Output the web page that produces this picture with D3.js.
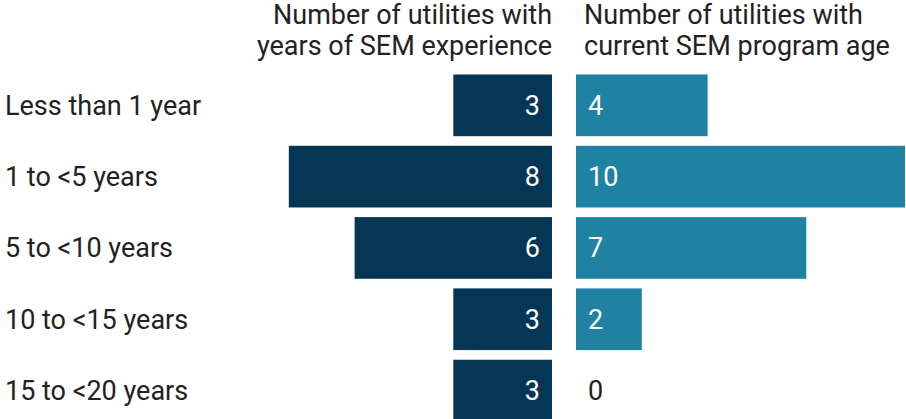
<!DOCTYPE html>
<html>
<head>
<meta charset="utf-8">
<script src="https://cdn.jsdelivr.net/npm/d3@7/dist/d3.min.js"></script>
<style>
  body { margin: 0; background: #fff; }
  svg text { font-family: Roboto, "Noto Sans", sans-serif; }
</style>
</head>
<body>
<svg width="906" height="419"></svg>
<script>
// chart data
var categories = ["Less than 1 year", "1 to <5 years", "5 to <10 years", "10 to <15 years", "15 to <20 years"];
var experience = [3, 8, 6, 3, 3];
var programAge = [4, 10, 7, 2, 0];
var leftTitle = ["Number of utilities with", "years of SEM experience"];
var rightTitle = ["Number of utilities with", "current SEM program age"];

var svg = d3.select("svg"),
    centerL = 552,   // right edge of left bars
    centerR = 576,   // left edge of right bars
    unit = 32.9,
    fontSize = "27px";

var yScale = d3.scaleBand()
    .domain(categories)
    .range([74.5, 421.4])
    .paddingInner(0.135)
    .paddingOuter(0);

var xLeft = d3.scaleLinear().domain([0, 10]).range([centerL, centerL - unit * 10]);
var xRight = d3.scaleLinear().domain([0, 10]).range([centerR, centerR + unit * 10]);

// titles
svg.append("text")
    .attr("text-anchor", "end")
    .attr("font-size", fontSize)
    .attr("fill", "#222")
    .selectAll("tspan").data(leftTitle).enter().append("tspan")
    .attr("x", centerL)
    .attr("y", function(d, i) { return 24 + i * 31; })
    .text(function(d) { return d; });

svg.append("text")
    .attr("text-anchor", "start")
    .attr("font-size", fontSize)
    .attr("fill", "#222")
    .selectAll("tspan").data(rightTitle).enter().append("tspan")
    .attr("x", centerR + 8)
    .attr("y", function(d, i) { return 24 + i * 31; })
    .text(function(d) { return d; });

// category labels
svg.selectAll(".cat").data(categories).enter().append("text")
    .attr("class", "cat")
    .attr("x", 5)
    .attr("y", function(d) { return yScale(d) + yScale.bandwidth() / 2; })
    .attr("dy", "0.35em")
    .attr("font-size", fontSize)
    .attr("fill", "#222")
    .text(function(d) { return d; });

// left bars
svg.selectAll(".barL").data(experience).enter().append("rect")
    .attr("class", "barL")
    .attr("x", function(d) { return xLeft(d); })
    .attr("y", function(d, i) { return yScale(categories[i]); })
    .attr("width", function(d) { return xLeft(0) - xLeft(d); })
    .attr("height", yScale.bandwidth())
    .attr("fill", "#053754");

svg.selectAll(".valL").data(experience).enter().append("text")
    .attr("class", "valL")
    .attr("x", xLeft(0) - 12)
    .attr("y", function(d, i) { return yScale(categories[i]) + yScale.bandwidth() / 2; })
    .attr("dy", "0.35em")
    .attr("text-anchor", "end")
    .attr("font-size", fontSize)
    .attr("fill", function(d) { return d > 0 ? "#fff" : "#222"; })
    .text(function(d) { return d; });

// right bars
svg.selectAll(".barR").data(programAge).enter().append("rect")
    .attr("class", "barR")
    .attr("x", xRight(0))
    .attr("y", function(d, i) { return yScale(categories[i]); })
    .attr("width", function(d) { return xRight(d) - xRight(0); })
    .attr("height", yScale.bandwidth())
    .attr("fill", "#1f82a2");

svg.selectAll(".valR").data(programAge).enter().append("text")
    .attr("class", "valR")
    .attr("x", xRight(0) + 12)
    .attr("y", function(d, i) { return yScale(categories[i]) + yScale.bandwidth() / 2; })
    .attr("dy", "0.35em")
    .attr("font-size", fontSize)
    .attr("fill", function(d) { return d > 0 ? "#fff" : "#222"; })
    .text(function(d) { return d; });
</script>
</body>
</html>
